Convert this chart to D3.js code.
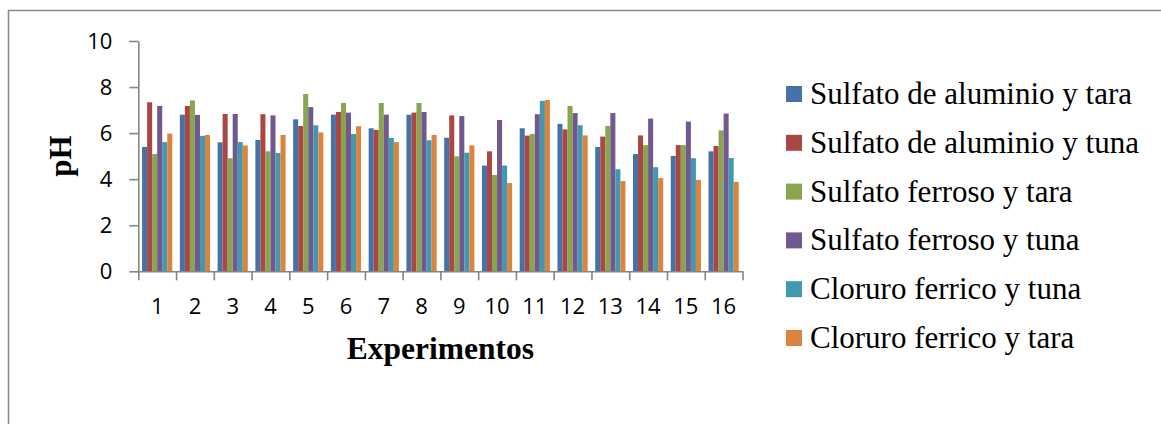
<!DOCTYPE html>
<html>
<head>
<meta charset="utf-8">
<script src="https://cdn.jsdelivr.net/npm/d3@7"></script>
<style>
  html, body { margin: 0; padding: 0; background: #fff; }
  svg { display: block; }
</style>
</head>
<body>
<svg id="chart" width="1161" height="424"></svg>
<script>
// pH measured in each of the 16 experiments, one array per coagulant treatment
const experiments = ["1","2","3","4","5","6","7","8","9","10","11","12","13","14","15","16"];
const seriesNames = [
  "Sulfato de aluminio y tara",
  "Sulfato de aluminio y tuna",
  "Sulfato ferroso y tara",
  "Sulfato ferroso y tuna",
  "Cloruro ferrico y tuna",
  "Cloruro ferrico y tara"
];
const sulfatoAluminioTara = [5.40, 6.80, 5.60, 5.70, 6.60, 6.80, 6.21, 6.80, 5.80, 4.59, 6.21, 6.40, 5.40, 5.09, 5.01, 5.21];
const sulfatoAluminioTuna = [7.34, 7.18, 6.83, 6.82, 6.31, 6.92, 6.14, 6.89, 6.77, 5.21, 5.89, 6.16, 5.85, 5.90, 5.48, 5.44];
const sulfatoFerrosoTara  = [5.09, 7.42, 4.91, 5.21, 7.70, 7.31, 7.31, 7.31, 4.99, 4.18, 5.96, 7.18, 6.31, 5.48, 5.48, 6.12];
const sulfatoFerrosoTuna  = [7.18, 6.79, 6.83, 6.77, 7.13, 6.89, 6.80, 6.92, 6.74, 6.57, 6.82, 6.87, 6.87, 6.63, 6.50, 6.85];
const cloruroFerricoTuna  = [5.61, 5.88, 5.61, 5.14, 6.34, 5.96, 5.79, 5.69, 5.15, 4.59, 7.40, 6.34, 4.43, 4.52, 4.91, 4.92];
const cloruroFerricoTara  = [5.98, 5.92, 5.46, 5.92, 6.03, 6.30, 5.61, 5.92, 5.47, 3.83, 7.44, 5.90, 3.92, 4.05, 3.97, 3.88];
const yTicks = [0, 2, 4, 6, 8, 10];
const colors = ["#4572A7", "#AA4643", "#89A54E", "#71588F", "#4198AF", "#DB843D"];

const allSeries = [sulfatoAluminioTara, sulfatoAluminioTuna, sulfatoFerrosoTara,
                   sulfatoFerrosoTuna, cloruroFerricoTuna, cloruroFerricoTara];

const svg = d3.select("#chart");
const axisColor = "#868686";

// outer chart frame
svg.append("rect")
  .attr("x", 8.5).attr("y", 10.5)
  .attr("width", 1170).attr("height", 430)
  .attr("fill", "none")
  .attr("stroke", "#8a8a8a")
  .attr("stroke-width", 1.5);

const plot = { left: 138.3, right: 742.5, top: 41, bottom: 271.3 };

const x0 = d3.scaleBand()
  .domain(experiments)
  .range([plot.left, plot.right])
  .paddingInner(0.2)
  .paddingOuter(0.1);

const x1 = d3.scaleBand()
  .domain(d3.range(seriesNames.length))
  .range([0, x0.bandwidth()]);

const y = d3.scaleLinear().domain([0, 10]).range([plot.bottom, plot.top]);

// bars
const groups = svg.append("g")
  .selectAll("g")
  .data(experiments)
  .join("g")
  .attr("transform", d => `translate(${x0(d)},0)`);

groups.selectAll("rect")
  .data((d, i) => allSeries.map((s, k) => ({ k, v: s[i] })))
  .join("rect")
  .attr("x", d => x1(d.k))
  .attr("y", d => y(d.v))
  .attr("width", x1.bandwidth())
  .attr("height", d => y(0) - y(d.v))
  .attr("fill", d => colors[d.k]);

// y axis
const yAxis = svg.append("g")
  .attr("transform", `translate(${plot.left},0)`)
  .call(d3.axisLeft(y).tickValues(yTicks).tickSize(9).tickSizeOuter(0).tickPadding(17));
yAxis.selectAll("path, line").attr("stroke", axisColor).attr("stroke-width", 1.6);
yAxis.selectAll("text")
  .attr("font-family", "'Open Sans', sans-serif")
  .attr("font-size", 22)
  .attr("fill", "#000");

// x axis: tick marks at the boundaries between experiments
const xEdges = d3.scaleLinear().domain([0, experiments.length]).range([plot.left, plot.right]);
const xTickAxis = svg.append("g")
  .attr("transform", `translate(0,${plot.bottom})`)
  .call(d3.axisBottom(xEdges).tickValues(d3.range(experiments.length + 1)).tickFormat("").tickSize(9).tickSizeOuter(0));
xTickAxis.selectAll("path, line").attr("stroke", axisColor).attr("stroke-width", 1.6);

// x axis labels centred on each group
const xLabelAxis = svg.append("g")
  .attr("transform", `translate(0,${plot.bottom})`)
  .call(d3.axisBottom(x0).tickSize(0).tickPadding(27));
xLabelAxis.select(".domain").remove();
xLabelAxis.selectAll("text")
  .attr("font-family", "'Open Sans', sans-serif")
  .attr("font-size", 22)
  .attr("fill", "#000");

// axis titles
svg.append("text")
  .attr("transform", "translate(70.5,156) rotate(-90)")
  .attr("text-anchor", "middle")
  .attr("font-family", "'Liberation Serif', 'Times New Roman', serif")
  .attr("font-weight", "bold")
  .attr("font-size", 31)
  .text("pH");

svg.append("text")
  .attr("x", (plot.left + plot.right) / 2)
  .attr("y", 359)
  .attr("text-anchor", "middle")
  .attr("font-family", "'Liberation Serif', 'Times New Roman', serif")
  .attr("font-weight", "bold")
  .attr("font-size", 31.5)
  .text("Experimentos");

// legend
const legend = svg.append("g")
  .selectAll("g")
  .data(seriesNames)
  .join("g")
  .attr("transform", (d, i) => `translate(786,${104 + i * 48.8})`);

legend.append("rect")
  .attr("x", 0).attr("y", -18)
  .attr("width", 16).attr("height", 16)
  .attr("fill", (d, i) => colors[i]);

legend.append("text")
  .attr("x", 24)
  .attr("y", 0)
  .attr("font-family", "'Liberation Serif', 'Times New Roman', serif")
  .attr("font-size", 31)
  .attr("fill", "#000")
  .text(d => d);
</script>
</body>
</html>
